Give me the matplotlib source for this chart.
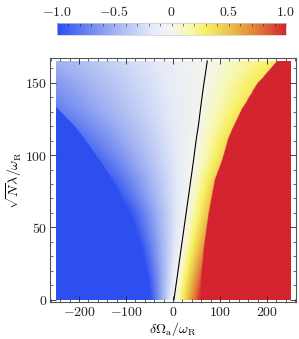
import numpy as np
import matplotlib
matplotlib.use('Agg')
import matplotlib.pyplot as plt
from matplotlib.colors import LinearSegmentedColormap
from matplotlib.ticker import MultipleLocator, FuncFormatter

matplotlib.rcParams['mathtext.fontset'] = 'cm'
matplotlib.rcParams['xtick.direction'] = 'in'
matplotlib.rcParams['ytick.direction'] = 'in'

# values, per row of sqrt(N)lambda/omega_R
row_y = [0, 16, 37, 60, 83, 97, 112, 120, 133, 138, 150, 154, 165]
# zero contour (black line)
zero_x = [2, 9, 18, 28, 38, 44, 50, 54, 59, 61, 66, 68, 73]
# edge of the saturated blue region and the value just inside it
blue_x = [-49, -55, -70, -91, -130, -158, -191, -210, -249, -262, -300, -315, -380]
blue_v = [-1.0, -1.0, -1.0, -0.97, -0.92, -0.87, -0.82, -0.79, -0.75, -0.74, -0.72, -0.71, -0.70]
# edge of the saturated red region and the value just inside it
red_x = [57, 59, 65, 75, 88, 104, 117, 128, 147, 157, 179, 191, 220]
red_v = [1.0, 0.85, 0.65, 0.52, 0.45, 0.41, 0.38, 0.37, 0.35, 0.35, 0.34, 0.34, 0.33]

cbar_ticks = [-1.0, -0.5, 0, 0.5, 1.0]
cbar_labels = ['$-1.0$', '$-0.5$', '$0$', '$0.5$', '$1.0$']

cmap = LinearSegmentedColormap.from_list('bwyr', [
    (0.0, '#2d4ff0'), (0.25, '#a0b2f2'), (0.42, '#e6ebf8'), (0.5, '#f4f4ee'),
    (0.575, '#f8f8b4'), (0.65, '#f8f064'), (0.75, '#ecc448'),
    (0.875, '#e07e38'), (1.0, '#d42430')])

xs = np.linspace(-250, 250, 500)
ys = np.linspace(0, 165, 330)
X, Y = np.meshgrid(xs, ys)
x0 = np.interp(Y, row_y, zero_x)
xl = np.interp(Y, row_y, blue_x)
el = np.interp(Y, row_y, blue_v)
xr = np.interp(Y, row_y, red_x)
er = np.interp(Y, row_y, red_v)
V = np.where(X < x0, el * (X - x0) / (xl - x0), er * (X - x0) / (xr - x0))
V[X < xl] = -1
V[X > xr] = 1

fig = plt.figure(figsize=(2.99, 3.39), dpi=100)
ax = fig.add_axes([50/299, 37/339, 246/299, 244/339])
im = ax.imshow(V, origin='lower', extent=[-250, 250, 0, 165], aspect='auto',
               cmap=cmap, vmin=-1, vmax=1, interpolation='bilinear')
ax.plot(zero_x, row_y, color='k', lw=0.8)
ax.set_xlim(-262, 262)
ax.set_ylim(-1.5, 167)

fmt = FuncFormatter(lambda v, p: '$%g$' % v)
ax.xaxis.set_major_locator(MultipleLocator(100))
ax.xaxis.set_minor_locator(MultipleLocator(20))
ax.yaxis.set_major_locator(MultipleLocator(50))
ax.yaxis.set_minor_locator(MultipleLocator(10))
ax.xaxis.set_major_formatter(fmt)
ax.yaxis.set_major_formatter(fmt)
ax.tick_params(which='both', top=True, right=True, labelsize=10, colors='#222222', pad=2)
ax.tick_params(which='major', length=4, width=0.6)
ax.tick_params(which='minor', length=2, width=0.5)
for s in ax.spines.values():
    s.set_color('#555555')
    s.set_linewidth(0.8)
ax.set_xlabel(r'$\delta\Omega_{\rm a}/\omega_{\rm R}$', fontsize=10, labelpad=1)
ax.set_ylabel(r'$\sqrt{N}\lambda/\omega_{\rm R}$', fontsize=10, labelpad=1)

cax = fig.add_axes([57/299, 304/339, 229/299, 12/339])
cb = fig.colorbar(im, cax=cax, orientation='horizontal')
cb.set_ticks(cbar_ticks)
cb.set_ticklabels(cbar_labels)
cax.xaxis.set_ticks_position('top')
cax.xaxis.set_minor_locator(MultipleLocator(0.1))
cax.tick_params(which='both', direction='in', labelsize=10, colors='#222222', length=2, width=0.4, pad=3)
cb.outline.set_edgecolor('#cccccc')
cb.outline.set_linewidth(0.5)

fig.savefig('out.png', dpi=100)
